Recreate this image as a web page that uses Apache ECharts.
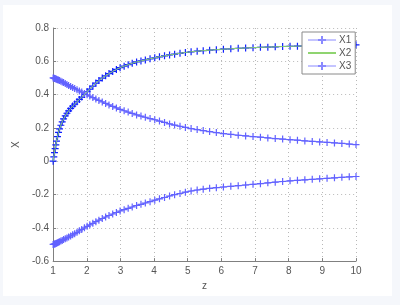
<!DOCTYPE html>
<html><head><meta charset="utf-8">
<script src="https://cdn.jsdelivr.net/npm/echarts@6/dist/echarts.min.js"></script>
<style>
html,body{margin:0;padding:0;background:#f5f7fb;}
#wrap{position:relative;width:400px;height:305px;background:#f5f7fb;overflow:hidden;}
#c{position:absolute;left:3px;top:5px;width:389px;height:291px;background:#fff;}
</style></head>
<body><div id="wrap"><div id="c"></div></div>
<script>
const zVals = [1.00,1.02,1.04,1.06,1.08,1.10,1.13,1.16,1.19,1.23,1.27,1.31,1.36,1.41,1.46,1.52,1.58,1.64,1.71,1.78,1.85,1.93,2.01,2.09,2.18,2.27,2.36,2.46,2.56,2.66,2.77,2.88,2.99,3.11,3.23,3.35,3.48,3.61,3.74,3.88,4.02,4.16,4.31,4.46,4.61,4.77,4.93,5.10,5.28,5.46,5.65,5.85,6.06,6.28,6.50,6.72,6.94,7.16,7.38,7.60,7.82,8.04,8.26,8.48,8.70,8.92,9.14,9.36,9.58,9.80,10.00];
const x1Vals = [0.000,0.026,0.052,0.076,0.098,0.120,0.148,0.173,0.194,0.216,0.236,0.254,0.272,0.288,0.302,0.317,0.331,0.343,0.357,0.371,0.385,0.401,0.417,0.433,0.451,0.469,0.484,0.499,0.513,0.526,0.539,0.551,0.562,0.571,0.580,0.588,0.596,0.602,0.608,0.615,0.621,0.627,0.633,0.638,0.643,0.648,0.653,0.657,0.661,0.664,0.667,0.670,0.673,0.675,0.678,0.680,0.682,0.684,0.685,0.687,0.689,0.690,0.691,0.692,0.694,0.695,0.695,0.696,0.697,0.698,0.699];
const x2Vals = x1Vals;
const x3Vals = [0.500,0.499,0.497,0.496,0.494,0.492,0.489,0.487,0.484,0.480,0.476,0.472,0.466,0.460,0.454,0.448,0.442,0.436,0.429,0.422,0.415,0.407,0.399,0.391,0.382,0.373,0.365,0.356,0.347,0.338,0.329,0.320,0.311,0.303,0.295,0.287,0.278,0.271,0.264,0.256,0.249,0.241,0.233,0.224,0.217,0.210,0.203,0.196,0.190,0.184,0.178,0.172,0.166,0.161,0.156,0.152,0.148,0.144,0.140,0.136,0.133,0.129,0.126,0.122,0.119,0.116,0.113,0.110,0.107,0.103,0.100];
const x4Vals = [-0.500,-0.499,-0.498,-0.497,-0.495,-0.493,-0.490,-0.487,-0.484,-0.480,-0.476,-0.471,-0.466,-0.461,-0.456,-0.449,-0.442,-0.435,-0.427,-0.418,-0.410,-0.400,-0.391,-0.382,-0.373,-0.363,-0.354,-0.344,-0.335,-0.326,-0.317,-0.308,-0.299,-0.291,-0.283,-0.275,-0.266,-0.259,-0.251,-0.243,-0.234,-0.226,-0.218,-0.209,-0.201,-0.194,-0.186,-0.179,-0.173,-0.168,-0.163,-0.159,-0.155,-0.151,-0.147,-0.143,-0.139,-0.135,-0.130,-0.126,-0.122,-0.118,-0.115,-0.112,-0.109,-0.106,-0.103,-0.100,-0.097,-0.094,-0.092];
const seriesNames = ['X1','X2','X3'];
const xTicks = {min:1, max:10, interval:1};
const yTicks = {min:-0.6, max:0.8, interval:0.2};

const pair = arr => zVals.map((z,i)=>[z, arr[i]]);
const plus = 'path://M5,0L5,10M0,5L10,5';
const dark = '#1020ff', light = '#6262ff', green = '#8fd470';
const font = 'Liberation Sans, Arial, sans-serif';

const chart = echarts.init(document.getElementById('c'), null, {renderer:'canvas'});
chart.setOption({
  animation:false,
  backgroundColor:'#fff',
  grid:{left:49,right:36,top:23,bottom:29,containLabel:false},
  legend:{
    orient:'vertical', left:299, top:27,
    padding:[3,4,3,5], itemGap:3, itemWidth:28, itemHeight:10,
    backgroundColor:'#fff', borderColor:'#8a8a8a', borderWidth:1,
    textStyle:{fontFamily:font,fontSize:10,color:'#555',padding:[0,0,0,-2]},
    data:[
      {name:seriesNames[0], lineStyle:{color:'#8a8aff',width:1}, itemStyle:{borderColor:'#8a8aff'}},
      {name:seriesNames[1], itemStyle:{color:'rgba(0,0,0,0)',borderWidth:0,opacity:0}},
      {name:seriesNames[2], lineStyle:{color:'#8a8aff',width:1}, itemStyle:{borderColor:'#8a8aff'}}
    ]
  },
  xAxis:{
    type:'value', min:xTicks.min, max:xTicks.max, interval:xTicks.interval,
    name:'z', nameLocation:'middle', nameGap:19,
    nameTextStyle:{fontFamily:font,fontSize:10,color:'#555'},
    axisLine:{show:true,onZero:false,lineStyle:{color:'#808080'}},
    axisTick:{show:true,inside:true,length:3,lineStyle:{color:'#808080'}},
    axisLabel:{fontFamily:font,fontSize:10,color:'#555',margin:5},
    splitLine:{show:true,lineStyle:{color:'#b8b8b8',type:[1,3],width:1}}
  },
  yAxis:{
    type:'value', min:yTicks.min, max:yTicks.max, interval:yTicks.interval,
    name:'X', nameLocation:'middle', nameGap:31,
    nameTextStyle:{fontFamily:font,fontSize:10,color:'#555'},
    axisLine:{show:true,onZero:false,lineStyle:{color:'#808080'}},
    axisTick:{show:true,inside:true,length:3,lineStyle:{color:'#808080'}},
    axisLabel:{fontFamily:font,fontSize:10,color:'#555',margin:4,
      formatter:v=>{const r=Math.round(v*10)/10; return r===0?'0':String(r);}},
    splitLine:{show:true,lineStyle:{color:'#b8b8b8',type:[1,3],width:1}}
  },
  series:[
    {name:seriesNames[0], type:'line', data:pair(x1Vals), z:2,
     symbol:plus, symbolSize:7, showAllSymbol:true,
     itemStyle:{color:'rgba(0,0,0,0)',borderColor:dark,borderWidth:1.2},
     lineStyle:{color:dark,width:1}, emphasis:{disabled:true}},
    {name:seriesNames[1], type:'line', data:pair(x2Vals), z:3,
     symbol:'none', showSymbol:false,
     itemStyle:{color:green}, lineStyle:{color:green,width:1}, emphasis:{disabled:true}},
    {name:seriesNames[2], type:'line', data:pair(x3Vals), z:2,
     symbol:plus, symbolSize:7, showAllSymbol:true,
     itemStyle:{color:'rgba(0,0,0,0)',borderColor:light,borderWidth:1.2},
     lineStyle:{color:light,width:1}, emphasis:{disabled:true}},
    {name:'X4', type:'line', data:pair(x4Vals), z:2,
     symbol:plus, symbolSize:7, showAllSymbol:true,
     itemStyle:{color:'rgba(0,0,0,0)',borderColor:light,borderWidth:1.2},
     lineStyle:{color:light,width:1}, emphasis:{disabled:true}}
  ]
});
</script></body></html>
